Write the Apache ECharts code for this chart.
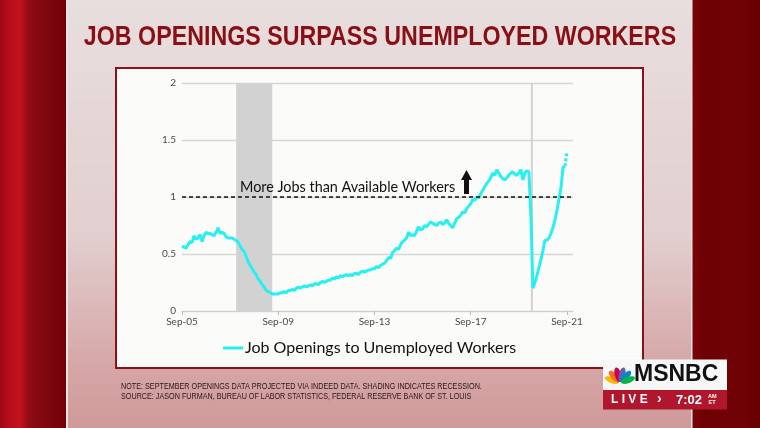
<!DOCTYPE html>
<html><head><meta charset="utf-8">
<script src="https://cdn.jsdelivr.net/npm/echarts@6/dist/echarts.min.js"></script>
<style>html,body{margin:0;padding:0;background:#e4d6d6}#c{width:760px;height:428px}</style>
</head><body><div id="c"></div>
<script>
// ---- data ----
const monthNames = ['Jan','Feb','Mar','Apr','May','Jun','Jul','Aug','Sep','Oct','Nov','Dec'];
const firstMonth = { year: 2005, month: 8 };   // Sep-05
const lastAxisMonth = { year: 2021, month: 11 }; // Dec-21 (axis runs a little past the data)
const categories = [];
for (let y = firstMonth.year, m = firstMonth.month; y < lastAxisMonth.year || (y === lastAxisMonth.year && m <= lastAxisMonth.month); ) {
  categories.push(monthNames[m] + '-' + String(y).slice(2));
  m++; if (m > 11) { m = 0; y++; }
}
const xTickLabels = ['Sep-05', 'Sep-09', 'Sep-13', 'Sep-17', 'Sep-21'];
const yTicks = { min: 0, max: 2, interval: 0.5 };

// Job openings to unemployed workers, monthly Sep-05 .. Aug-21
const ratio = [
  0.57,0.56,0.55,0.58,0.61,0.60,0.66,0.63,0.64,0.67,0.61,0.66,
  0.69,0.68,0.68,0.67,0.66,0.69,0.73,0.68,0.69,0.68,0.65,0.64,
  0.64,0.64,0.63,0.62,0.60,0.57,0.54,0.52,0.48,0.43,0.40,0.37,
  0.34,0.32,0.28,0.26,0.23,0.21,0.18,0.17,0.16,0.15,0.15,0.15,
  0.15,0.16,0.16,0.17,0.16,0.18,0.18,0.19,0.18,0.20,0.21,0.20,
  0.21,0.22,0.21,0.22,0.23,0.22,0.24,0.24,0.23,0.25,0.26,0.25,
  0.26,0.27,0.27,0.29,0.28,0.30,0.29,0.31,0.30,0.31,0.32,0.31,
  0.32,0.31,0.33,0.33,0.32,0.34,0.35,0.34,0.35,0.36,0.36,0.37,
  0.37,0.39,0.38,0.40,0.41,0.42,0.44,0.47,0.46,0.51,0.53,0.55,
  0.54,0.58,0.61,0.62,0.64,0.69,0.66,0.67,0.66,0.70,0.74,0.71,
  0.72,0.75,0.74,0.76,0.78,0.77,0.76,0.75,0.77,0.78,0.76,0.77,
  0.80,0.77,0.75,0.73,0.77,0.81,0.82,0.84,0.87,0.86,0.90,0.92,
  0.94,0.98,0.97,1.00,0.99,1.03,1.06,1.09,1.12,1.14,1.17,1.21,
  1.19,1.24,1.21,1.18,1.16,1.15,1.17,1.19,1.21,1.22,1.20,1.19,
  1.21,1.24,1.15,1.21,1.23,1.22,0.85,0.20,0.25,0.31,0.38,0.45,
  0.53,0.62,0.62,0.64,0.68,0.73,0.80,0.88,0.98,1.08,1.26,1.27
];
const projectedMonth = 'Sep-21';
const projectedValue = 1.40;
const parityLevel = 1;
const recessions = [['Dec-07', 'Jun-09'], ['Mar-20', 'Apr-20']];
const seriesName = 'Job Openings to Unemployed Workers';
const annotation = 'More Jobs than Available Workers';

// ---- chart ----
const CYAN = '#27f1f0';
const lastActualIdx = ratio.length - 1;
const projIdx = categories.indexOf(projectedMonth);
const projData = categories.map((c, i) => i === lastActualIdx ? ratio[lastActualIdx] : (i === projIdx ? projectedValue : null));
const chart = echarts.init(document.getElementById('c'), null, { renderer: 'canvas' });
const isTick = (idx, val) => xTickLabels.includes(val);

const feathers = ['#fcb711', '#f37021', '#cc004c', '#6460aa', '#0089d0', '#0db14b'];
const peacock = feathers.map((col, i) => ({
  type: 'ellipse', z: 30, silent: true,
  shape: { cx: 0, cy: -8.5, rx: 3.2, ry: 7.4 },
  rotation: (70 - i * 28) * Math.PI / 180,
  originX: 0, originY: 0,
  style: { fill: col }
}));

chart.setOption({
  animation: false,
  backgroundColor: '#e4d6d6',
  textStyle: { fontFamily: 'Lato, sans-serif' },
  grid: { left: 182, right: 187, top: 83, bottom: 117, containLabel: false },
  xAxis: {
    type: 'category', data: categories, boundaryGap: false,
    axisLine: { lineStyle: { color: '#cfcfcf', width: 1.2 } },
    axisTick: { interval: isTick, length: 4, lineStyle: { color: '#bdbdbd' } },
    axisLabel: { interval: isTick, color: '#4a4a4a', fontSize: 10, margin: 6, fontFamily: 'Lato' },
    splitLine: { show: false }
  },
  yAxis: {
    type: 'value', min: yTicks.min, max: yTicks.max, interval: yTicks.interval,
    axisLine: { show: false }, axisTick: { show: false },
    axisLabel: { color: '#4a4a4a', fontSize: 10, margin: 6, fontFamily: 'Lato' },
    splitLine: { lineStyle: { color: '#d6d6d6', width: 1.3 } }
  },
  legend: {
    data: [seriesName], left: 218, top: 335, icon: 'rect', itemWidth: 20, itemHeight: 3, itemGap: 0,
    textStyle: { fontSize: 16, color: '#111', fontFamily: 'Lato', padding: [0, 0, 0, -3] }
  },
  graphic: [
    { type: 'rect', z: -100, silent: true, shape: { x: 0, y: 0, width: 760, height: 428 },
      style: { fill: new echarts.graphic.LinearGradient(0, 0, 0, 1, [
        { offset: 0, color: '#e8dede' }, { offset: 0.55, color: '#e2cfcf' }, { offset: 0.85, color: '#d6a7a7' }, { offset: 1, color: '#cf9999' }]) } },
    { type: 'rect', z: -99, silent: true, shape: { x: 0, y: 0, width: 66, height: 428 },
      style: { fill: new echarts.graphic.LinearGradient(0, 0, 1, 0, [
        { offset: 0, color: '#9a0a14' }, { offset: 0.12, color: '#b50d1b' }, { offset: 0.3, color: '#c3121f' },
        { offset: 0.45, color: '#8d0a12' }, { offset: 0.75, color: '#7c080d' }, { offset: 1, color: '#720006' }]) } },
    { type: 'rect', z: -99, silent: true, shape: { x: 66, y: 0, width: 2, height: 428 }, style: { fill: '#efe4e4' } },
    { type: 'rect', z: -99, silent: true, shape: { x: 692, y: 0, width: 68, height: 428 },
      style: { fill: new echarts.graphic.LinearGradient(0, 0, 1, 0, [
        { offset: 0, color: '#7a0508' }, { offset: 0.2, color: '#6c0003' }, { offset: 0.6, color: '#700205' }, { offset: 1, color: '#6a0002' }]) } },
    { type: 'rect', z: -99, silent: true, shape: { x: 691, y: 0, width: 1.5, height: 428 }, style: { fill: '#efe4e4' } },
    { type: 'rect', z: -98, silent: true, shape: { x: 116, y: 68, width: 527, height: 300 },
      style: { fill: '#fbfbfa', stroke: '#8c1016', lineWidth: 2 } },
    { type: 'text', z: 5, silent: true, x: 380, y: 37, scaleX: 0.83,
      style: { text: 'JOB OPENINGS SURPASS UNEMPLOYED WORKERS', fill: '#8a0f15', font: 'bold 28px "Liberation Sans", Arial, sans-serif', align: 'center', verticalAlign: 'middle' } },
    { type: 'text', z: 5, silent: true, x: 240, y: 187,
      style: { text: annotation, fill: '#111', font: '14.4px Lato, sans-serif', align: 'left', verticalAlign: 'middle' } },
    { type: 'polygon', z: 5, silent: true,
      shape: { points: [[466.5, 170], [472, 180], [469, 180], [469, 194], [464, 194], [464, 180], [461, 180]] },
      style: { fill: '#111' } },
    { type: 'text', z: 5, silent: true, x: 121, y: 387, scaleX: 0.82,
      style: { text: 'NOTE: SEPTEMBER OPENINGS DATA PROJECTED VIA INDEED DATA. SHADING INDICATES RECESSION.', fill: '#2a1618', font: '8.8px "Liberation Sans", Arial, sans-serif', verticalAlign: 'middle' } },
    { type: 'text', z: 5, silent: true, x: 121, y: 396.5, scaleX: 0.82,
      style: { text: 'SOURCE: JASON FURMAN, BUREAU OF LABOR STATISTICS, FEDERAL RESERVE BANK OF ST. LOUIS', fill: '#2a1618', font: '8.8px "Liberation Sans", Arial, sans-serif', verticalAlign: 'middle' } },
    { type: 'rect', z: 20, silent: true, shape: { x: 603, y: 359.5, width: 124, height: 31 }, style: { fill: '#f7f7f7' } },
    { type: 'rect', z: 20, silent: true, shape: { x: 603, y: 390, width: 124, height: 19.5 }, style: { fill: '#b0172d' } },
    { type: 'group', z: 30, x: 620, y: 383, children: peacock },
    { type: 'text', z: 21, silent: true, x: 634, y: 375,
      style: { text: 'MSNBC', fill: '#111', font: 'bold 23px "Liberation Sans", Arial, sans-serif', verticalAlign: 'middle' } },
    { type: 'text', z: 21, silent: true, x: 611, y: 400,
      style: { text: 'L I V E', fill: '#fff', font: 'bold 12px "Liberation Sans", sans-serif', verticalAlign: 'middle' } },
    { type: 'text', z: 21, silent: true, x: 657, y: 399.5,
      style: { text: '›', fill: '#fff', font: 'bold 14px "Liberation Sans", sans-serif', verticalAlign: 'middle' } },
    { type: 'text', z: 21, silent: true, x: 676, y: 400,
      style: { text: '7:02', fill: '#fff', font: 'bold 13px "Liberation Sans", sans-serif', verticalAlign: 'middle' } },
    { type: 'text', z: 21, silent: true, x: 708, y: 396,
      style: { text: 'AM', fill: '#fff', font: 'bold 5.5px "Liberation Sans", sans-serif', verticalAlign: 'middle' } },
    { type: 'text', z: 21, silent: true, x: 708.5, y: 402.5,
      style: { text: 'ET', fill: '#fff', font: 'bold 5.5px "Liberation Sans", sans-serif', verticalAlign: 'middle' } }
  ],
  series: [
    {
      name: 'recessions', type: 'line', data: [], z: 1, silent: true,
      markArea: { silent: true, itemStyle: { color: '#d2d2d2' },
        data: recessions.map(r => [{ xAxis: r[0] }, { xAxis: r[1] }]) }
    },
    {
      name: seriesName, type: 'line', data: ratio, z: 3, showSymbol: false, symbol: 'none',
      lineStyle: { color: CYAN, width: 3 }, itemStyle: { color: CYAN },
      markLine: { silent: true, symbol: 'none', label: { show: false },
        lineStyle: { color: '#111', type: [4, 3], width: 1.5 },
        data: [{ yAxis: parityLevel }] }
    },
    {
      name: 'projected', type: 'line', data: projData, z: 3, showSymbol: false, symbol: 'none', connectNulls: false,
      lineStyle: { color: CYAN, width: 3, type: [3, 2] }
    }
  ]
});
</script></body></html>
